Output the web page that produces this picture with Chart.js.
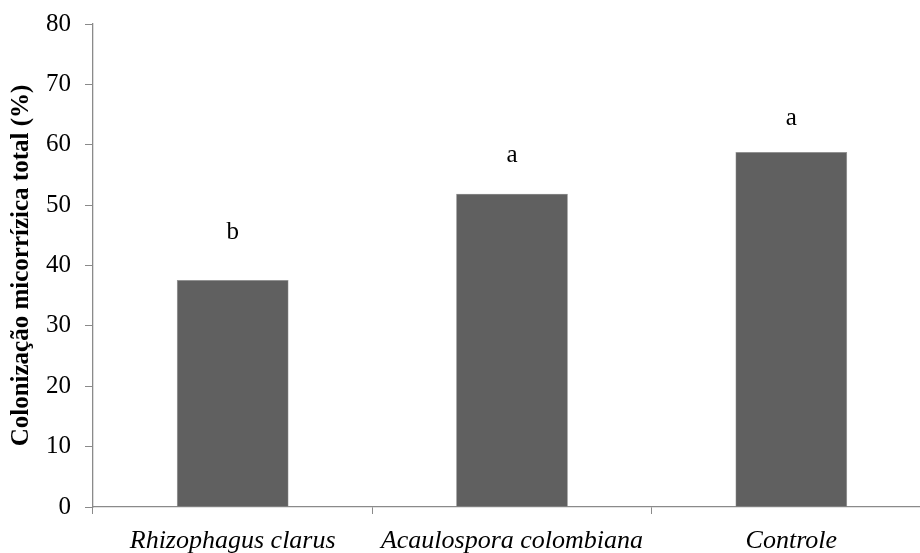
<!DOCTYPE html>
<html>
<head>
<meta charset="utf-8">
<script src="https://cdn.jsdelivr.net/npm/chart.js@4/dist/chart.umd.min.js"></script>
<style>
  html, body { margin: 0; padding: 0; background: #fff; overflow: hidden; }
  #wrap { width: 931px; height: 553px; }
</style>
</head>
<body>
<div id="wrap"><canvas id="chart" width="931" height="553"></canvas></div>
<script>
// ================= DATA =================
const categories = ["Rhizophagus clarus", "Acaulospora colombiana", "Controle"];
const colonizacao = [37.6, 51.9, 58.8];
const letters = ["b", "a", "a"];
const letterY = [44.4, 57.1, 63.3]; // baseline of each letter, in % units
const yTicks = [0, 10, 20, 30, 40, 50, 60, 70, 80];

const SERIF = "'Liberation Serif', 'Times New Roman', serif";
const AXIS_GRAY = "#8a8a8a";

// ================= LETTERS ABOVE BARS =================
const letterPlugin = {
  id: "letters",
  afterDatasetsDraw(chart) {
    const { ctx, scales } = chart;
    ctx.save();
    ctx.fillStyle = "#000";
    ctx.font = "25px " + SERIF;
    ctx.textAlign = "center";
    ctx.textBaseline = "alphabetic";
    letters.forEach((l, i) => {
      const x = scales.x.getPixelForValue(i);
      const y = scales.y.getPixelForValue(letterY[i]);
      ctx.fillText(l, x, y);
    });
    ctx.restore();
  }
};

// ================= CHART =================
new Chart(document.getElementById("chart"), {
  type: "bar",
  data: {
    labels: categories,
    datasets: [{
      data: colonizacao,
      backgroundColor: "#606060",
      borderColor: "#8c8c8c",
      borderWidth: 0.6,
      barPercentage: 0.4,
      categoryPercentage: 1.0
    }]
  },
  options: {
    responsive: false,
    animation: false,
    layout: { padding: { top: 24, left: 0, right: 0, bottom: 0 } },
    plugins: {
      legend: { display: false },
      tooltip: { enabled: false }
    },
    scales: {
      x: {
        grid: {
          drawOnChartArea: false,
          drawTicks: true,
          tickLength: 7,
          tickColor: AXIS_GRAY,
          offset: true
        },
        border: { color: AXIS_GRAY, width: 1.3 },
        ticks: {
          color: "#000",
          padding: 12,
          maxRotation: 0,
          font: { family: SERIF, size: 26, style: "italic" }
        },
        afterFit(scale) { scale.height = 46; }
      },
      y: {
        min: 0,
        max: 80,
        afterBuildTicks(scale) { scale.ticks = yTicks.map(v => ({ value: v })); },
        grid: {
          drawOnChartArea: false,
          drawTicks: true,
          tickLength: 8,
          tickColor: AXIS_GRAY
        },
        border: { color: AXIS_GRAY, width: 1.3 },
        ticks: {
          color: "#000",
          padding: 14,
          font: { family: SERIF, size: 25 }
        },
        title: {
          display: true,
          text: "Colonização micorrízica total (%)",
          color: "#000",
          padding: { top: 7, bottom: 0 },
          font: { family: SERIF, size: 25, weight: "bold" }
        },
        afterFit(scale) {
          scale.width = 93;
          scale.paddingTop = 0;
          scale.paddingBottom = 0;
        }
      }
    }
  },
  plugins: [letterPlugin]
});
</script>
</body>
</html>
